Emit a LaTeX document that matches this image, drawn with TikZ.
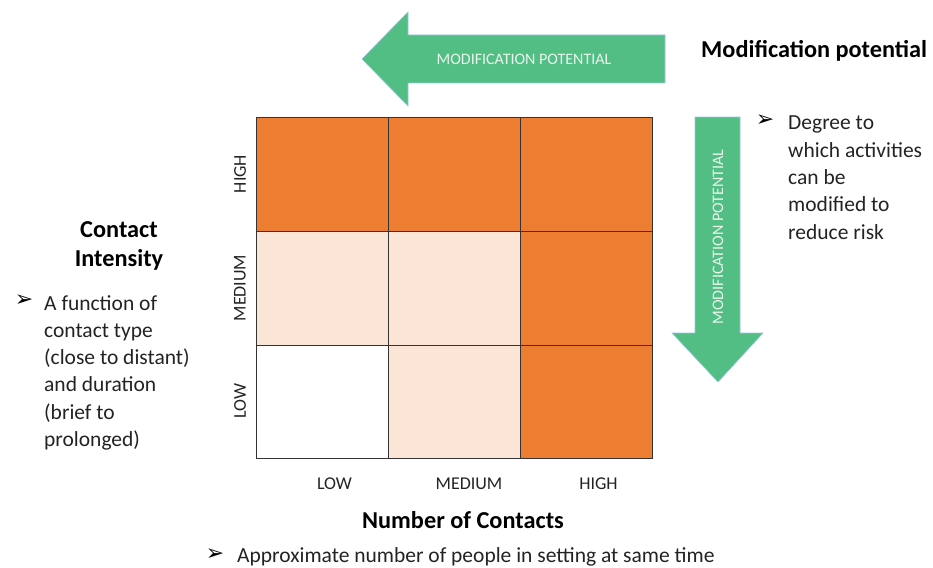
\documentclass[tikz,border=0pt]{standalone}
\usepackage{fontspec}
\setmainfont{Carlito}
\newfontfamily\dejavu{DejaVu Sans}
\definecolor{cellorange}{RGB}{237,125,49}
\definecolor{cellpeach}{RGB}{251,229,214}
\definecolor{arrowgreen}{RGB}{82,190,132}
\definecolor{arrowedge}{RGB}{150,195,225}
\definecolor{labelwhite}{RGB}{232,246,237}
\definecolor{textgray}{RGB}{35,35,35}
\begin{document}
\begin{tikzpicture}[x=1pt,y=-1pt,
  cell/.style={draw=black!80,line width=0.9pt},
  arrowshape/.style={fill=arrowgreen,draw=arrowedge,line width=0.6pt},
  arrowtext/.style={text=labelwhite,font=\fontsize{16}{18}\selectfont,inner sep=0pt},
  axislabel/.style={text=textgray,font=\fontsize{18}{20}\selectfont,inner sep=0pt},
  titletext/.style={text=black,font=\fontsize{24.3}{29}\selectfont\bfseries,inner sep=0pt},
  bodytext/.style={text=textgray,font=\fontsize{21.5}{27.3}\selectfont,align=left,inner sep=0pt},
  bullet/.style={text=black,font=\dejavu\fontsize{22}{24}\selectfont,inner sep=0pt}
]
\useasboundingbox (0,0) rectangle (933,567);
% grid cells
\path[cell,fill=cellorange] (256,117) rectangle (388,231);
\path[cell,fill=cellorange] (388,117) rectangle (520,231);
\path[cell,fill=cellorange] (520,117) rectangle (652,231);
\path[cell,fill=cellpeach] (256,231) rectangle (388,345);
\path[cell,fill=cellpeach] (388,231) rectangle (520,345);
\path[cell,fill=cellorange] (520,231) rectangle (652,345);
\path[cell,fill=white] (256,345) rectangle (388,458);
\path[cell,fill=cellpeach] (388,345) rectangle (520,458);
\path[cell,fill=cellorange] (520,345) rectangle (652,458);
% horizontal arrow
\path[arrowshape] (665,35) -- (408,35) -- (408,12) -- (362,59) -- (408,106) -- (408,83) -- (665,83) -- cycle;
\node[arrowtext] (harrowlabel) at (524,59) {MODIFICATION POTENTIAL};
% vertical arrow
\path[arrowshape] (695,117) -- (740,117) -- (740,333) -- (763,333) -- (718,382) -- (672,333) -- (695,333) -- cycle;
\node[arrowtext,rotate=90] (varrowlabel) at (718,237) {MODIFICATION POTENTIAL};
% titles
\node[titletext,anchor=base west] (modtitle) at (701,58) {Modification potential};
\node[titletext,anchor=base] (contacttitle) at (119,237) {Contact};
\node[titletext,anchor=base] (intensitytitle) at (119,266) {Intensity};
\node[titletext,anchor=base] (numtitle) at (463,528) {Number of Contacts};
% bullets and bodies
\node[bullet] (b1) at (765,121) {➢};
\node[bodytext,anchor=north west] (body1) at (788,116) {Degree to\\which activities\\can be\\modified to\\reduce risk};
\node[bullet] (b2) at (24,301) {➢};
\node[bodytext,anchor=north west] (body2) at (44,295) {A function of\\contact type\\(close to distant)\\and duration\\(brief to\\prolonged)};
\node[bullet] (b3) at (215,555) {➢};
\node[bodytext,anchor=base west] (body3) at (237,562) {Approximate number of people in setting at same time};
% axis labels
\node[axislabel,rotate=90] (rhigh) at (240,174) {HIGH};
\node[axislabel,rotate=90] (rmed) at (240,288) {MEDIUM};
\node[axislabel,rotate=90] (rlow) at (240,401) {LOW};
\node[axislabel] (clow) at (334.5,483.5) {LOW};
\node[axislabel] (cmed) at (469,483.5) {MEDIUM};
\node[axislabel] (chigh) at (598.5,483.5) {HIGH};
\end{tikzpicture}
\end{document}
